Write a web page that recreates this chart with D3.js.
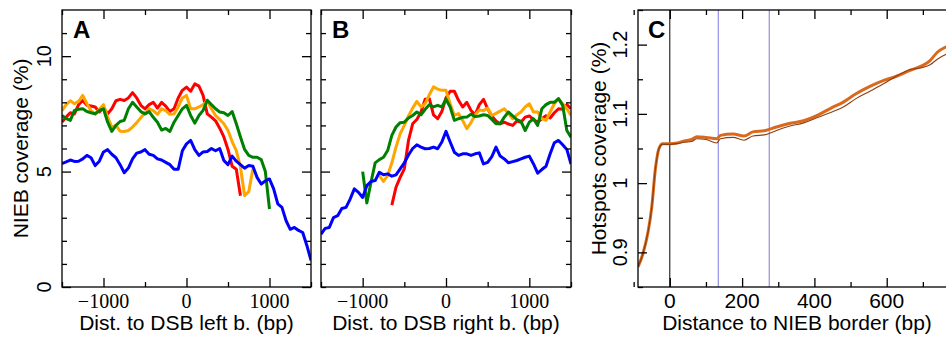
<!DOCTYPE html>
<html>
<head>
<meta charset="utf-8">
<script src="https://cdn.jsdelivr.net/npm/d3@7"></script>
<style>
  body { margin: 0; background: #fff; }
  svg { display: block; }
</style>
</head>
<body>
<div id="chart"></div>
<script>
// ---- data: panel A (distance to DSB left border), sampled every 50 bp ----
const step = 50;
const aRedStart = -1500;
const aRed = [7.15,7.36,7.55,7.5,7.9,8.08,7.87,7.84,7.8,7.58,7.77,7.5,7.72,8.07,8.13,8.08,8.19,8.42,8.19,7.87,7.72,7.9,8.0,7.75,8.0,7.84,7.6,7.72,8.19,8.52,8.66,
  8.48,8.8,8.7,8.3,7.5,7.36,7.2,6.88,6.5,5.96,5.23,5.1,3.95];
const aOrangeStart = -1500;
const aOrange = [7.64,7.9,8.07,7.94,8.04,8.3,7.94,7.64,7.5,7.7,7.9,7.36,6.93,7.0,6.75,6.74,6.78,6.93,7.12,7.33,7.55,7.72,7.64,7.48,7.72,7.64,7.48,7.5,7.8,8.19,8.3,
  7.72,7.72,7.8,7.9,8.07,7.72,7.43,7.26,7.07,6.78,6.3,5.91,5.19,3.96,4.13,5.12];
const aGreenStart = -1500;
const aGreen = [7.43,7.29,7.22,7.65,7.7,7.72,7.6,7.55,7.5,7.65,7.72,7.14,6.74,7.0,7.17,7.22,7.72,8.0,7.8,7.6,7.5,7.6,7.35,7.14,6.8,6.87,6.74,7.14,7.43,7.72,7.87,
  7.43,7.1,7.43,7.65,8.09,7.9,7.72,7.58,7.55,7.43,7.6,7.07,6.5,5.96,5.7,5.62,5.62,5.52,5.0,3.38];
const aBlueStart = -1500;
const aBlue = [5.35,5.42,5.5,5.44,5.45,5.55,5.7,5.6,5.26,5.45,5.85,5.95,5.75,5.6,5.3,4.95,5.15,5.55,5.8,5.85,5.95,5.75,5.7,5.55,5.5,5.4,5.3,5.1,5.1,5.9,6.2,
  6.35,5.95,5.7,5.85,5.87,6.0,5.9,6.0,5.48,5.3,5.67,5.45,5.3,5.15,5.26,5.23,4.75,4.46,4.6,4.68,4.25,3.6,3.45,2.87,2.5,2.58,2.45,2.36,1.8,1.15];

// ---- data: panel B (distance to DSB right border) ----
const bRedStart = -650;
const bRed = [3.55,4.32,4.75,5.12,6.35,7.07,7.26,7.58,8.13,8.16,7.46,7.29,7.6,8.2,
  8.48,8.48,8.09,7.8,8.0,7.65,7.46,7.9,8.13,7.72,7.41,7.19,7.07,7.14,7.06,7.0,7.19,7.14,7.36,7.41,7.25,7.14,7.29,7.42,7.32,7.55,7.72,7.7,7.9,7.72];
const bOrangeStart = -800;
const bOrange = [4.83,4.57,4.83,5.38,6.06,6.64,7.0,7.41,7.75,8.04,7.8,7.94,8.33,8.67,8.57,8.52,8.52,
  7.94,7.43,7.51,7.22,6.86,7.12,7.46,7.67,7.64,7.75,7.43,7.52,7.62,7.72,7.51,7.29,7.46,7.58,7.8,7.94,7.58,7.58,7.29,7.22,7.58,7.94,8.16,7.94,7.72,7.43];
const bGreenStart = -1000;
const bGreen = [5.0,3.64,4.54,5.38,5.52,5.62,5.91,6.57,6.93,7.12,7.14,7.32,7.43,7.58,7.46,7.7,7.9,7.8,7.87,7.8,8.13,
  7.8,7.22,7.29,7.35,7.36,7.49,7.38,7.41,7.46,7.43,7.26,7.07,7.07,7.36,7.58,7.41,7.25,7.17,6.78,7.14,7.29,7.0,7.72,7.9,8.0,8.0,8.16,7.87,6.78,6.49];
const bBlueStart = -1500;
const bBlue = [2.29,2.54,2.58,3.01,3.09,3.4,3.45,3.81,4.25,4.1,3.88,4.39,4.57,4.61,4.97,4.86,4.9,4.8,4.86,5.12,5.38,5.72,6.0,6.16,6.06,5.99,6.0,6.06,5.99,6.28,6.74,
  6.28,5.84,5.7,5.77,5.77,5.7,5.77,5.81,5.33,5.4,5.65,6.06,5.67,5.55,5.38,5.43,5.48,5.55,5.62,5.67,5.33,4.93,5.09,5.23,5.77,6.25,6.35,6.16,5.96,5.33];

// ---- data: panel C (hotspots coverage vs distance to NIEB border) ----
const cDist  = [-88,-75,-60,-50,-40,-30,-20,0,20,40,60,75,100,130,140,175,205,230,265,295,330,370,405,445,480,515,555,590,625,665,700,720,740,765,800];
const cThick = [0.879,0.897,0.93,0.965,1.02,1.05,1.057,1.057,1.058,1.061,1.063,1.067,1.066,1.064,1.069,1.071,1.068,1.074,1.076,1.081,1.086,1.09,1.097,1.108,1.117,1.129,1.14,1.148,1.154,1.163,1.17,1.177,1.189,1.197,1.205];
const cThin  = [0.879,0.897,0.93,0.965,1.02,1.05,1.056,1.056,1.057,1.059,1.06,1.064,1.063,1.058,1.064,1.066,1.062,1.068,1.07,1.076,1.082,1.087,1.094,1.102,1.11,1.122,1.133,1.143,1.154,1.164,1.167,1.171,1.179,1.186,1.192];
const cMarks = [0, 134, 275];

const W = 946, H = 337;
const plotTop = 10, plotBottom = 287;

const svg = d3.select("#chart").append("svg")
  .attr("width", W).attr("height", H)
  .style("font-family", "'Liberation Sans', Arial, sans-serif");

const xA = d3.scaleLinear().domain([-1500, 1500]).range([62, 311]);
const xB = d3.scaleLinear().domain([-1500, 1500]).range([321, 571]);
const yAB = d3.scaleLinear().domain([0, 12]).range([plotBottom, plotTop]);
const xC = d3.scaleLinear().domain([-88, 800]).range([638, 959]);
const yC = d3.scaleLinear().domain([0.85, 1.25]).range([plotBottom, plotTop]);

// inward ticks on all four sides, long for labelled values
function frame(x, y, xMajor, xMinor, yMajor, yMinor) {
  const g = svg.append("g");
  const [x0, x1] = x.range(), [y0, y1] = y.range();
  const sets = [
    [d3.axisBottom, `translate(0,${y0})`, x, xMinor, xMajor],
    [d3.axisTop, `translate(0,${y1})`, x, xMinor, xMajor],
    [d3.axisLeft, `translate(${x0},0)`, y, yMinor, yMajor],
    [d3.axisRight, `translate(${x1},0)`, y, yMinor, yMajor]
  ];
  sets.forEach(([ax, tr, sc, minor, major]) => {
    g.append("g").attr("transform", tr)
      .call(ax(sc).tickValues(minor).tickSizeInner(-5).tickSizeOuter(0).tickFormat(""));
    g.append("g").attr("transform", tr)
      .call(ax(sc).tickValues(major).tickSizeInner(-9).tickSizeOuter(0).tickFormat(""));
  });
  g.selectAll(".domain").remove();
  g.selectAll(".tick line").attr("stroke", "#000").attr("stroke-width", 1.3);
  g.append("rect")
    .attr("x", x0).attr("y", y1).attr("width", x1 - x0).attr("height", y0 - y1)
    .attr("fill", "none").attr("stroke", "#000").attr("stroke-width", 1.3);
  return g;
}

function clip(id, x, y) {
  svg.append("clipPath").attr("id", id).append("rect")
    .attr("x", x.range()[0]).attr("y", y.range()[1])
    .attr("width", x.range()[1] - x.range()[0]).attr("height", y.range()[0] - y.range()[1]);
}

function drawSeries(x, y, clipId, series) {
  const g = svg.append("g").attr("clip-path", `url(#${clipId})`);
  series.forEach(([start, vals, color]) => {
    const line = d3.line().x((d, i) => x(start + i * step)).y(d => y(d));
    g.append("path").datum(vals)
      .attr("d", line).attr("fill", "none")
      .attr("stroke", color).attr("stroke-width", 3)
      .attr("stroke-linejoin", "round");
  });
}

// ---- panels A and B ----
const abMajorX = [-1000, 0, 1000], abMinorX = [-1500, -500, 500, 1500];
const abMajorY = [0, 5, 10], abMinorY = [1, 2, 3, 4, 6, 7, 8, 9, 11];

clip("clipA", xA, yAB);
clip("clipB", xB, yAB);

drawSeries(xA, yAB, "clipA", [
  [aRedStart, aRed, "#ff0000"],
  [aOrangeStart, aOrange, "#ffa500"],
  [aGreenStart, aGreen, "#008000"],
  [aBlueStart, aBlue, "#0000ff"]
]);
drawSeries(xB, yAB, "clipB", [
  [bRedStart, bRed, "#ff0000"],
  [bOrangeStart, bOrange, "#ffa500"],
  [bGreenStart, bGreen, "#008000"],
  [bBlueStart, bBlue, "#0000ff"]
]);

frame(xA, yAB, abMajorX, abMinorX, abMajorY, abMinorY);
frame(xB, yAB, abMajorX, abMinorX, [5], abMinorY.concat([0, 10]));

[xA, xB].forEach(x => {
  svg.append("g").selectAll("text").data(abMajorX).join("text")
    .attr("x", d => x(d)).attr("y", 308)
    .attr("text-anchor", "middle")
    .style("font-family", "'Liberation Serif', 'Times New Roman', serif")
    .style("font-size", "20px")
    .text(d => d < 0 ? "\u2212" + Math.abs(d) : d);
});

svg.append("g").selectAll("text").data(abMajorY).join("text")
  .attr("transform", d => `translate(51,${yAB(d)}) rotate(-90)`)
  .attr("text-anchor", "middle").style("font-size", "20px")
  .text(d => d);

svg.append("text").attr("x", d3.mean(xA.range())).attr("y", 330)
  .attr("text-anchor", "middle").style("font-size", "21px")
  .text("Dist. to DSB left b. (bp)");
svg.append("text").attr("x", d3.mean(xB.range())).attr("y", 330)
  .attr("text-anchor", "middle").style("font-size", "21px")
  .text("Dist. to DSB right b. (bp)");
svg.append("text")
  .attr("transform", `translate(28,${d3.mean(yAB.range())}) rotate(-90)`)
  .attr("text-anchor", "middle").style("font-size", "21px")
  .text("NIEB coverage (%)");

// ---- panel C ----
clip("clipC", xC, yC);
const gC = svg.append("g").attr("clip-path", "url(#clipC)");

gC.selectAll("line.mark").data(cMarks).join("line")
  .attr("class", "mark")
  .attr("x1", d => xC(d)).attr("x2", d => xC(d))
  .attr("y1", plotTop).attr("y2", plotBottom)
  .attr("stroke", (d, i) => i === 0 ? "#000" : "#7b7be0")
  .attr("stroke-width", 1);

const lineC = vals => d3.line()
  .x((d, i) => xC(cDist[i])).y(d => yC(d))
  .curve(d3.curveMonotoneX)(vals);

gC.append("path").attr("d", lineC(cThick))
  .attr("fill", "none").attr("stroke", "#d9691c").attr("stroke-width", 3);
gC.append("path").attr("d", lineC(cThin))
  .attr("fill", "none").attr("stroke", "#8b3e10").attr("stroke-width", 1.1);

const cMajorX = [0, 200, 400, 600, 800], cMinorX = [-100, 100, 300, 500, 700];
const cMajorY = [0.9, 1.0, 1.1, 1.2], cMinorY = [0.85, 0.95, 1.05, 1.15, 1.25];
frame(xC, yC, cMajorX, cMinorX, cMajorY, cMinorY);

svg.append("g").selectAll("text").data(cMajorX.slice(0, 4)).join("text")
  .attr("x", d => xC(d)).attr("y", 308)
  .attr("text-anchor", "middle").style("font-size", "21px")
  .text(d => d);
svg.append("g").selectAll("text").data(cMajorY).join("text")
  .attr("transform", d => `translate(627,${yC(d)}) rotate(-90)`)
  .attr("text-anchor", "middle").style("font-size", "20px")
  .text(d => d === 1 ? "1" : d3.format(".1f")(d));
svg.append("text").attr("x", 797).attr("y", 330)
  .attr("text-anchor", "middle").style("font-size", "21px")
  .text("Distance to NIEB border (bp)");
svg.append("text")
  .attr("transform", `translate(606,${d3.mean(yC.range())}) rotate(-90)`)
  .attr("text-anchor", "middle").style("font-size", "21px")
  .text("Hotspots coverage (%)");

// ---- panel letters ----
[["A", 73], ["B", 332], ["C", 648]].forEach(([t, x]) => {
  svg.append("text").attr("x", x).attr("y", 38)
    .style("font-size", "24px").style("font-weight", "bold").text(t);
});
</script>
</body>
</html>
